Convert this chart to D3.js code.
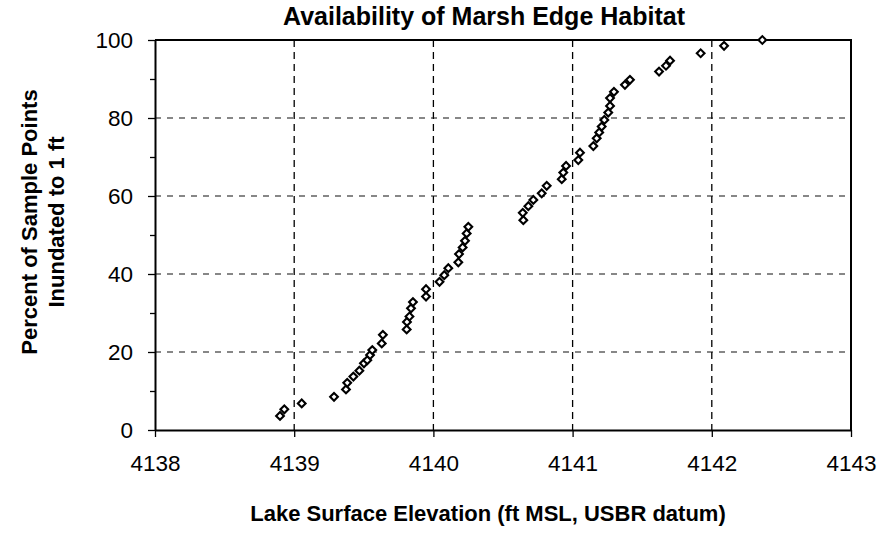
<!DOCTYPE html>
<html>
<head>
<meta charset="utf-8">
<script src="https://cdn.jsdelivr.net/npm/d3@7"></script>
<style>
  body { margin: 0; background: #fff; }
  svg { display: block; font-family: "Liberation Sans", Arial, sans-serif; }
</style>
</head>
<body>
<div id="chart"></div>
<script>
// Data -----------------------------------------------------------------
var elevation = [
  4138.898, 4138.929, 4139.054, 4139.286, 4139.372, 4139.381, 4139.425, 4139.468,
  4139.501, 4139.525, 4139.545, 4139.561, 4139.629, 4139.637,
  4139.808, 4139.810, 4139.828, 4139.839, 4139.853, 4139.947, 4139.947, 4140.044,
  4140.078, 4140.107, 4140.179, 4140.184, 4140.210, 4140.227, 4140.239, 4140.251,
  4140.646, 4140.642, 4140.682, 4140.718, 4140.778, 4140.814, 4140.922, 4140.933,
  4140.953, 4141.041, 4141.053, 4141.149, 4141.173, 4141.191, 4141.209, 4141.228,
  4141.256, 4141.269, 4141.269, 4141.297, 4141.376, 4141.412, 4141.621, 4141.671,
  4141.700, 4141.920, 4142.088, 4142.363
];
var percent = [
  3.6, 5.3, 6.8, 8.5, 10.4, 12.1, 13.7, 15.2,
  17.1, 17.9, 19.2, 20.5, 22.2, 24.4,
  25.8, 27.7, 29.1, 31.2, 32.8, 34.2, 36.1, 38.0,
  39.7, 41.5, 43.0, 45.1, 46.8, 48.5, 50.4, 52.1,
  53.8, 55.7, 57.4, 59.0, 60.7, 62.6, 64.3, 66.0,
  67.7, 69.2, 71.1, 72.8, 74.8, 76.3, 77.8, 79.5,
  81.4, 83.1, 85.1, 86.7, 88.5, 89.8, 91.9, 93.4,
  94.7, 96.6, 98.5, 100
];
var xTicks = [4138, 4139, 4140, 4141, 4142, 4143];
var yTicks = [0, 20, 40, 60, 80, 100];
var yMinorTicks = [10, 30, 50, 70, 90];

var titleText = "Availability of Marsh Edge Habitat";
var xTitle = "Lake Surface Elevation (ft MSL, USBR datum)";
var yTitle = ["Percent of Sample Points", "Inundated to 1 ft"];

// Layout ----------------------------------------------------------------
var width = 880, height = 533;
var plot = { left: 155, right: 851, top: 40, bottom: 430 };

var xScale = d3.scaleLinear().domain([4138, 4143]).range([plot.left, plot.right]);
var yScale = d3.scaleLinear().domain([0, 100]).range([plot.bottom, plot.top]);

var svg = d3.select("#chart").append("svg")
  .attr("width", width)
  .attr("height", height);

// gridlines
var grid = svg.append("g").attr("class", "grid");
grid.selectAll("line.v")
  .data(xTicks.slice(1, -1))
  .enter().append("line")
  .attr("class", "v")
  .attr("x1", function(d){ return xScale(d); })
  .attr("x2", function(d){ return xScale(d); })
  .attr("y1", plot.top)
  .attr("y2", plot.bottom)
  .attr("stroke", "#000")
  .attr("stroke-width", 1.3)
  .attr("stroke-dasharray", "7,5");
grid.selectAll("line.h")
  .data(yTicks.slice(1, -1))
  .enter().append("line")
  .attr("class", "h")
  .attr("x1", plot.left)
  .attr("x2", plot.right)
  .attr("y1", function(d){ return yScale(d); })
  .attr("y2", function(d){ return yScale(d); })
  .attr("stroke", "#111")
  .attr("stroke-width", 1.2)
  .attr("stroke-dasharray", "6,6");

// frame (top / right)
svg.append("path")
  .attr("d", "M" + plot.left + "," + plot.top + "H" + plot.right + "V" + plot.bottom)
  .attr("fill", "none")
  .attr("stroke", "#000")
  .attr("stroke-width", 2);

// axes
var xAxis = d3.axisBottom(xScale)
  .tickValues(xTicks)
  .tickFormat(d3.format("d"))
  .tickSize(7)
  .tickSizeOuter(0)
  .tickPadding(18);
var yAxis = d3.axisLeft(yScale)
  .tickValues(yTicks)
  .tickSize(7)
  .tickSizeOuter(0)
  .tickPadding(15);
var yMinor = d3.axisLeft(yScale)
  .tickValues(yMinorTicks)
  .tickFormat("")
  .tickSize(5)
  .tickSizeOuter(0);

var gx = svg.append("g")
  .attr("transform", "translate(0," + plot.bottom + ")")
  .call(xAxis);
var gy = svg.append("g")
  .attr("transform", "translate(" + plot.left + ",0)")
  .call(yAxis);
var gym = svg.append("g")
  .attr("transform", "translate(" + plot.left + ",0)")
  .call(yMinor);

[gx, gy, gym].forEach(function(g){
  g.select(".domain").attr("stroke", "#000").attr("stroke-width", 2);
  g.selectAll(".tick line").attr("stroke", "#000").attr("stroke-width", 1.3);
  g.selectAll("text")
    .attr("fill", "#000")
    .style("font-family", "'Liberation Sans', Arial, sans-serif")
    .style("font-size", "22.5px");
});
gym.select(".domain").remove();

// points
var diamond = d3.symbol().type(d3.symbolSquare).size(30);
svg.append("g")
  .attr("class", "points")
  .selectAll("path")
  .data(elevation)
  .enter().append("path")
  .attr("d", diamond)
  .attr("transform", function(d, i){
    return "translate(" + xScale(d) + "," + yScale(percent[i]) + ") rotate(45)";
  })
  .attr("fill", "#fff")
  .attr("stroke", "#000")
  .attr("stroke-width", 2.1);

// titles
svg.append("text")
  .attr("x", 484)
  .attr("y", 25)
  .attr("text-anchor", "middle")
  .style("font-weight", "bold")
  .style("font-size", "25px")
  .text(titleText);

svg.append("text")
  .attr("x", 488)
  .attr("y", 521)
  .attr("text-anchor", "middle")
  .style("font-weight", "bold")
  .style("font-size", "22px")
  .text(xTitle);

yTitle.forEach(function(t, i){
  svg.append("text")
    .attr("transform", "translate(" + (37 + i * 27) + "," + 222 + ") rotate(-90)")
    .attr("text-anchor", "middle")
    .style("font-weight", "bold")
    .style("font-size", "22px")
    .text(t);
});
</script>
</body>
</html>
